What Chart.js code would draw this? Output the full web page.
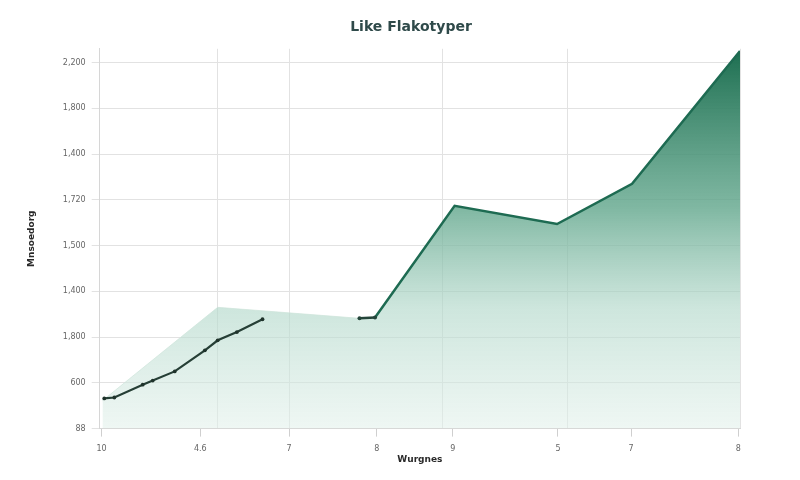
<!DOCTYPE html>
<html>
<head>
<meta charset="utf-8">
<script src="https://cdn.jsdelivr.net/npm/chart.js@4.4.1/dist/chart.umd.min.js"></script>
<style>
html,body{margin:0;padding:0;background:#fff;}
#wrap{width:800px;height:480px;}
</style>
</head>
<body>
<div id="wrap"><canvas id="c" width="800" height="480"></canvas></div>
<script>
// ---- data ----
const chartTitle = "Like Flakotyper";
const xTitle = "Wurgnes";
const yTitle = "Mnsoedorg";

const areaX = [0.03, 1.29, 2.84, 3.01, 3.88, 5.0, 5.82, 7.0];
const areaY = [0.61, 2.65, 2.41, 2.43, 4.87, 4.47, 5.35, 8.25];

const lineX = [0.05, 0.16, 0.47, 0.58, 0.82, 1.15, 1.29, 1.50, 1.78];
const lineY = [0.66, 0.68, 0.96, 1.05, 1.25, 1.71, 1.93, 2.11, 2.39];

const xTickValues = [0.02, 1.1, 2.07, 3.03, 3.86, 5.01, 5.81, 6.98];
const xTickLabels = ["10", "4.6", "7", "8", "9", "5", "7", "8"];
const xGridValues = [0, 1.29, 2.08, 3.75, 5.11, 7];

const yTickValues = [0, 1, 2, 3, 4, 5, 6, 7, 8];
const yTickLabels = ["88", "600", "1,800", "1,400", "1,500", "1,720", "1,400", "1,800", "2,200"];

// ---- chart ----
const areaData = areaX.map((x, i) => ({x: x, y: areaY[i]}));
const lineData = lineX.map((x, i) => ({x: x, y: lineY[i]}));

function areaGradient(ctx) {
  const ch = ctx.chart;
  const a = ch.chartArea;
  if (!a) return 'rgba(60,140,110,0.5)';
  const g = ch.ctx.createLinearGradient(0, a.top, 0, a.bottom);
  g.addColorStop(0, 'rgba(28,110,80,1)');
  g.addColorStop(0.42, 'rgba(100,168,142,0.82)');
  g.addColorStop(0.68, 'rgba(178,216,202,0.65)');
  g.addColorStop(1, 'rgba(225,240,234,0.55)');
  return g;
}

const tickFont = {family: "DejaVu Sans", size: 8};
const titleFont = {family: "DejaVu Sans", size: 9, weight: 'bold'};

new Chart(document.getElementById('c'), {
  type: 'line',
  data: {
    datasets: [
      {
        label: 'area fill',
        data: areaData,
        fill: 'origin',
        backgroundColor: areaGradient,
        borderWidth: 0,
        borderColor: 'rgba(0,0,0,0)',
        tension: 0,
        pointRadius: 0,
        order: 3
      },
      {
        label: 'area edge',
        data: areaData,
        fill: false,
        borderColor: '#1e6b52',
        borderWidth: 2.5,
        tension: 0,
        pointRadius: (c) => (c.dataIndex === 2 || c.dataIndex === 3) ? 2 : 0,
        pointBackgroundColor: '#24453a',
        pointBorderWidth: 0,
        segment: {
          borderColor: (c) => c.p0DataIndex < 2 ? 'rgba(205,228,218,0.7)' : (c.p0DataIndex === 2 ? '#24453a' : '#1e6b52'),
          borderWidth: (c) => c.p0DataIndex < 2 ? 1 : 2.5
        },
        order: 2
      },
      {
        label: 'line',
        data: lineData,
        fill: false,
        borderColor: '#263f36',
        borderWidth: 2.2,
        tension: 0,
        pointRadius: 1.9,
        pointBackgroundColor: '#1f332b',
        pointBorderWidth: 0,
        order: 1
      }
    ]
  },
  options: {
    responsive: false,
    animation: false,
    layout: {padding: {left: 22, right: 0, top: 8, bottom: 15}},
    plugins: {
      legend: {display: false},
      tooltip: {enabled: false},
      title: {
        display: true,
        text: chartTitle,
        color: '#2f4a4a',
        font: {family: "DejaVu Sans", size: 14, weight: 'bold'},
        padding: {top: 11, bottom: 13}
      }
    },
    scales: {
      x: {
        type: 'linear',
        min: 0,
        max: 7,
        afterBuildTicks: (s) => { s.ticks = xTickValues.map(v => ({value: v})); },
        ticks: {
          autoSkip: false,
          maxRotation: 0,
          color: '#666',
          font: tickFont,
          padding: 8,
          callback: (v, i) => xTickLabels[i]
        },
        grid: {drawOnChartArea: false, drawTicks: true, tickLength: 8, color: '#cfcfcf'},
        border: {display: true, color: '#d6d6d6'},
        title: {display: true, text: xTitle, color: '#2a2a2a', font: titleFont, padding: {top: -8, bottom: 0}}
      },
      xg: {
        type: 'linear',
        position: 'bottom',
        min: 0,
        max: 7,
        display: true,
        afterBuildTicks: (s) => { s.ticks = xGridValues.map(v => ({value: v})); },
        ticks: {display: false},
        grid: {drawOnChartArea: true, drawTicks: false, color: '#e2e2e2'},
        border: {display: false}
      },
      y: {
        type: 'linear',
        min: 0,
        max: 8.3,
        afterBuildTicks: (s) => { s.ticks = yTickValues.map(v => ({value: v})); },
        ticks: {
          color: '#666',
          font: tickFont,
          padding: 6,
          callback: (v, i) => yTickLabels[i]
        },
        grid: {color: '#e2e2e2', tickLength: 8, drawTicks: true},
        border: {display: true, color: '#d6d6d6'},
        title: {display: true, text: yTitle, color: '#2a2a2a', font: titleFont, padding: {bottom: 20}}
      },
      yr: {
        type: 'linear',
        position: 'right',
        min: 0,
        max: 1,
        display: true,
        ticks: {display: false},
        grid: {drawOnChartArea: false, drawTicks: false},
        border: {display: false},
        afterFit: (s) => { s.width = 60; }
      }
    }
  }
});
</script>
</body>
</html>
